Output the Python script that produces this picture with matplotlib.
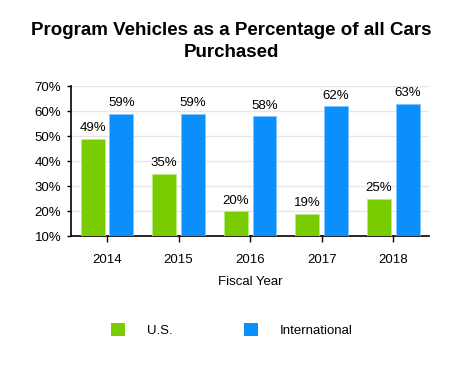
import matplotlib
matplotlib.use("Agg")
import matplotlib.pyplot as plt
from matplotlib.patches import Patch
import numpy as np

plt.rcParams['font.family'] = ['Liberation Sans', 'DejaVu Sans']

years = ['2014', '2015', '2016', '2017', '2018']
us = [49, 35, 20, 19, 25]
intl = [59, 59, 58, 62, 63]
series_names = ['U.S.', 'International']
colors = ['#79cc00', '#0b8ffc']

fs = 9.5
fig = plt.figure(figsize=(4.62, 3.66), dpi=100)
ax = fig.add_axes([0.154, 0.355, 0.775, 0.41])

x = np.arange(len(years))
w = 0.335
ax.bar(x - 0.2, np.array(us) - 10, w, bottom=10, color=colors[0],
       edgecolor='#b8ec80', linewidth=0.6, zorder=3)
ax.bar(x + 0.2, np.array(intl) - 10, w, bottom=10, color=colors[1],
       edgecolor='#80c4ff', linewidth=0.6, zorder=3)

# value labels above bars
for xi, v in zip(x, us):
    ax.annotate(f'{v}%', (xi - 0.2, v), xytext=(0, 3), textcoords='offset points',
                ha='center', va='bottom', fontsize=fs)
for xi, v in zip(x, intl):
    ax.annotate(f'{v}%', (xi + 0.2, v), xytext=(0, 3), textcoords='offset points',
                ha='center', va='bottom', fontsize=fs)

ax.set_xlim(-0.5, 4.5)
ax.set_ylim(10, 70)
ax.set_yticks(range(10, 71, 10))
ax.set_yticklabels([f'{t}%' for t in range(10, 71, 10)])
ax.set_xticks(x)
ax.set_xticklabels(years)
ax.tick_params(axis='x', length=4, width=1, pad=9, labelsize=fs)
ax.tick_params(axis='y', length=3, width=1, pad=4, labelsize=fs)

ax.grid(axis='y', color='#e6e6e6', linewidth=1, zorder=0)
ax.set_axisbelow(True)
for s in ['top', 'right']:
    ax.spines[s].set_visible(False)
ax.spines['left'].set_linewidth(1.2)
ax.spines['bottom'].set_linewidth(1.2)

ax.set_xlabel('Fiscal Year', fontsize=fs, labelpad=7)

fig.suptitle('Program Vehicles as a Percentage of all Cars\nPurchased',
             x=0.5, y=0.94, fontsize=13.5, fontweight='bold', linespacing=1.35)

handles = [Patch(facecolor=c, edgecolor='none') for c in colors]
fig.legend(handles, series_names, loc='center', bbox_to_anchor=(0.502, 0.098),
           ncol=2, frameon=False, fontsize=fs, handlelength=1.05, handleheight=1.05,
           handletextpad=1.7, columnspacing=5.4)

fig.savefig('out.png', dpi=100)
